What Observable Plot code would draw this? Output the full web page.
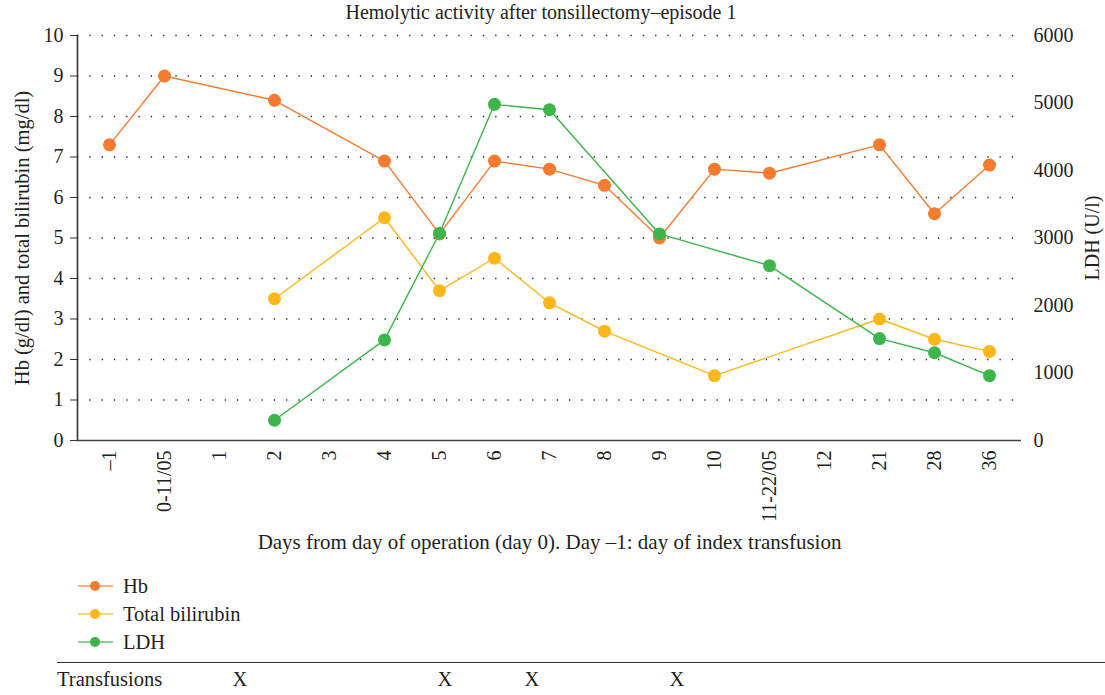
<!DOCTYPE html>
<html>
<head>
<meta charset="utf-8">
<script src="https://cdn.jsdelivr.net/npm/d3@7"></script>
<script src="https://cdn.jsdelivr.net/npm/@observablehq/plot@0.6"></script>
<style>
  html, body { margin: 0; padding: 0; background: #fff; }
  #wrap { position: relative; width: 1105px; height: 695px; font-family: "Liberation Serif", "DejaVu Serif", serif; color: #231f20; overflow: hidden; }
  #title { position: absolute; left: 0; top: 1px; width: 1082px; text-align: center; font-size: 20px; }
  #chart { position: absolute; left: 0; top: 0; }
  .leg { position: absolute; left: 78px; height: 24px; display: flex; align-items: center; font-size: 20.5px; }
  .leg svg { margin-right: 10px; }
  #rule { position: absolute; left: 57px; top: 662px; width: 1048px; height: 0; border-top: 1.5px solid #333; }
  .cell { position: absolute; top: 666px; font-size: 20.5px; line-height: 26px; }
</style>
</head>
<body>
<div id="wrap">
  <div id="chart"></div>
  <div id="title"></div>
  <div id="legend"></div>
  <div id="rule"></div>
  <div id="table"></div>
</div>
<script>
// ---- data ----
const titleText = "Hemolytic activity after tonsillectomy–episode 1";
const xTitle = "Days from day of operation (day 0). Day –1: day of index transfusion";
const yLeftTitle = "Hb (g/dl) and total bilirubin (mg/dl)";
const yRightTitle = "LDH (U/l)";
const days = ["–1","0-11/05","1","2","3","4","5","6","7","8","9","10","11-22/05","12","21","28","36"];
const hbValues   = [7.3, 9.0, null, 8.4, null, 6.9, 5.1, 6.9, 6.7, 6.3, 5.0, 6.7, 6.6, null, 7.3, 5.6, 6.8];
const biliValues = [null, null, null, 3.5, null, 5.5, 3.7, 4.5, 3.4, 2.7, null, 1.6, null, null, 3.0, 2.5, 2.2];
const ldhValues  = [null, null, null, 300, null, 1490, 3070, 4980, 4900, null, 3060, null, 2590, null, 1510, 1300, 960];
const leftTicks = [0,1,2,3,4,5,6,7,8,9,10];
const rightTicks = [0,1000,2000,3000,4000,5000,6000];
const seriesNames = ["Hb", "Total bilirubin", "LDH"];
const seriesColors = ["#f47b30", "#fdb71b", "#3cb54a"];
const transfusionLabel = "Transfusions";
const transfusionMarks = ["X","X","X","X"];

// ---- build ----
const leftMax = 10, rightMax = 6000;
const ratio = leftMax / rightMax;
function series(values, k) {
  return days.map((d, i) => ({day: d, value: values[i] == null ? null : values[i] * k}))
             .filter(r => r.value != null);
}
const hb = series(hbValues, 1);
const bili = series(biliValues, 1);
const ldh = series(ldhValues, ratio);
const allSeries = [hb, bili, ldh];

const marks = [
  Plot.gridY(leftTicks.slice(1), {stroke: "#222", strokeOpacity: 1, strokeWidth: 1.3, strokeDasharray: "1.3,11"}),
  Plot.axisY(leftTicks, {anchor: "left", tickSize: 7, tickPadding: 7, label: null, fontSize: 20, stroke: "#333"}),
  Plot.axisY(rightTicks.map(v => v * ratio), {anchor: "right", tickSize: 0, tickPadding: 12, label: null, fontSize: 20,
     tickFormat: d => String(Math.round(d / ratio))}),
  Plot.axisX({tickSize: 0, tickRotate: -90, tickPadding: 10, label: null, fontSize: 20}),
  Plot.frame({anchor: "left", stroke: "#333", strokeWidth: 1.6}),
  Plot.ruleY([0], {stroke: "#444", strokeWidth: 1.6}),
  Plot.text([yLeftTitle], {frameAnchor: "left", rotate: -90, dx: -55, textAnchor: "middle", fontSize: 20.5}),
  Plot.text([yRightTitle], {frameAnchor: "right", rotate: -90, dx: 71, textAnchor: "middle", fontSize: 20}),
  Plot.text([xTitle], {frameAnchor: "bottom", dy: 108, fontSize: 21})
];
allSeries.forEach((s, i) => {
  marks.push(Plot.line(s, {x: "day", y: "value", stroke: seriesColors[i], strokeWidth: 1.4}));
  marks.push(Plot.dot(s, {x: "day", y: "value", fill: seriesColors[i], r: 6.5}));
});

const chart = Plot.plot({
  width: 1105,
  height: 560,
  marginTop: 35,
  marginBottom: 120,
  marginLeft: 77,
  marginRight: 84,
  style: {fontFamily: "Liberation Serif, DejaVu Serif, serif", color: "#231f20", background: "transparent", fontSize: "20px"},
  x: {type: "point", domain: days, padding: 0.5},
  y: {domain: [0, leftMax]},
  marks
});
document.getElementById("chart").appendChild(chart);
document.getElementById("title").textContent = titleText;

// legend
const legendTops = [574, 602, 630];
const legend = document.getElementById("legend");
seriesNames.forEach((name, i) => {
  const row = document.createElement("div");
  row.className = "leg";
  row.style.top = legendTops[i] + "px";
  row.innerHTML = `<svg width="35" height="14"><line x1="0" x2="35" y1="7" y2="7" stroke="${seriesColors[i]}" stroke-opacity="0.8" stroke-width="1.6"/><circle cx="17" cy="7" r="5" fill="${seriesColors[i]}"/></svg><span></span>`;
  row.querySelector("span").textContent = name;
  legend.appendChild(row);
});

// transfusion table
const table = document.getElementById("table");
const lab = document.createElement("div");
lab.className = "cell"; lab.style.left = "57px"; lab.textContent = transfusionLabel;
table.appendChild(lab);
const markCenters = [240, 445, 532, 677];
transfusionMarks.forEach((m, i) => {
  const c = document.createElement("div");
  c.className = "cell";
  c.style.left = (markCenters[i] - 20) + "px";
  c.style.width = "40px";
  c.style.textAlign = "center";
  c.textContent = m;
  table.appendChild(c);
});
</script>
</body>
</html>
